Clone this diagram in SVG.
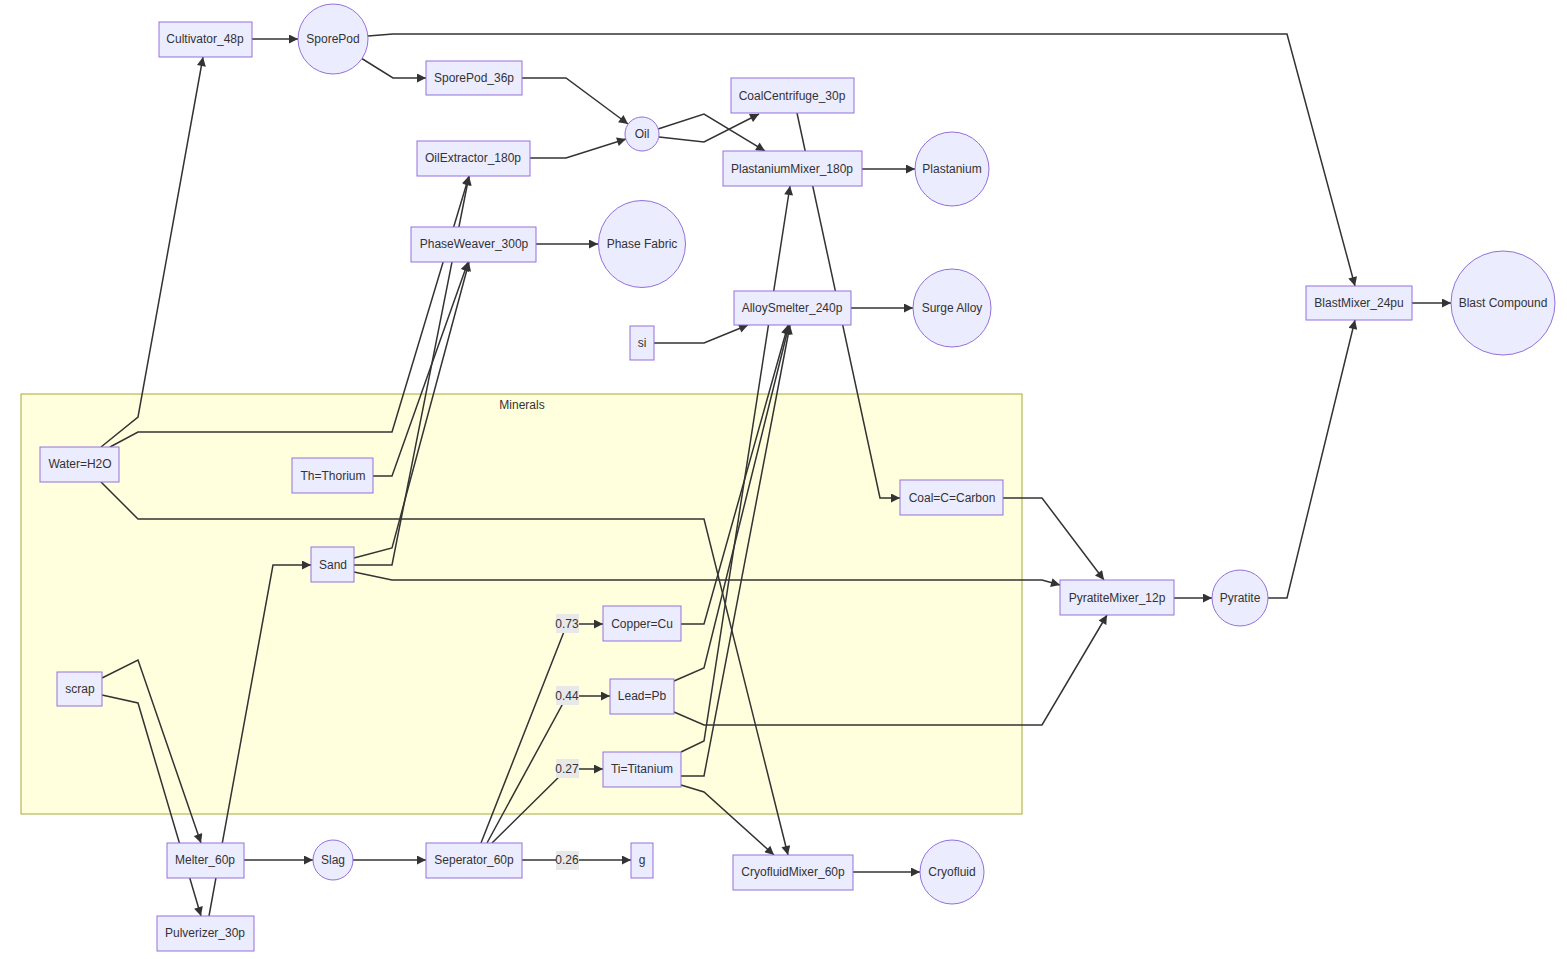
<svg xmlns="http://www.w3.org/2000/svg" width="1567" height="959" viewBox="0 0 1567 959">
<style>
.n rect,.n circle{fill:#ECECFF;stroke:#9370DB;stroke-width:1}
.n text,.lbl text,.cl text{font-family:"Liberation Sans",Arial,sans-serif;font-size:12px;fill:#333;text-anchor:middle;dominant-baseline:central}
.e path{fill:none;stroke:#333;stroke-width:1.5}
.lbl rect{fill:#e8e8e8}
</style>
<defs>
<marker id="ah" viewBox="0 0 10 10" refX="10" refY="5" markerWidth="11" markerHeight="9" markerUnits="userSpaceOnUse" orient="auto">
<path d="M0,0 L10,5 L0,10 z" fill="#333"/>
</marker>
</defs>
<rect width="1567" height="959" fill="#fff"/>
<g id="cluster-minerals" class="cl">
<rect x="21" y="394" width="1001" height="420" fill="#FFFFDE" stroke="#AAAA33" stroke-width="1"/>
<text x="522" y="405">Minerals</text>
</g>
<g id="edges" class="e">
<path marker-end="url(#ah)" d="M252,39 L298,39"/>
<path marker-end="url(#ah)" d="M368,36 L393,34 L1287,34 L1355,286"/>
<path marker-end="url(#ah)" d="M361,58 L393,78 L426,78"/>
<path marker-end="url(#ah)" d="M522,78 L566,78 L628,124"/>
<path marker-end="url(#ah)" d="M530,158 L566,158 L626,139"/>
<path marker-end="url(#ah)" d="M659,137 L704,142 L759,114"/>
<path marker-end="url(#ah)" d="M658,129 L704,114 L765,151"/>
<path marker-end="url(#ah)" d="M862,169 L915,169"/>
<path marker-end="url(#ah)" d="M797,113 L880,498 L900,498"/>
<path marker-end="url(#ah)" d="M536,244 L598,244"/>
<path marker-end="url(#ah)" d="M654,343 L704,343 L748,325"/>
<path marker-end="url(#ah)" d="M851,308 L913,308"/>
<path marker-end="url(#ah)" d="M1412,303 L1451,303"/>
<path marker-end="url(#ah)" d="M101,447 L138,417 L203,57"/>
<path marker-end="url(#ah)" d="M110,447 L138,432 L392,432 L469,176"/>
<path marker-end="url(#ah)" d="M354,565 L392,565 L469,176"/>
<path marker-end="url(#ah)" d="M373,476 L392,476 L468,262"/>
<path marker-end="url(#ah)" d="M354,558 L392,548 L469,262"/>
<path marker-end="url(#ah)" d="M101,482 L138,519 L704,519 L788,855"/>
<path marker-end="url(#ah)" d="M354,572 L392,580 L1042,580 L1060,585"/>
<path marker-end="url(#ah)" d="M1003,498 L1042,498 L1104,580"/>
<path marker-end="url(#ah)" d="M674,712 L704,725 L1042,725 L1107,615"/>
<path marker-end="url(#ah)" d="M1174,598 L1212,598"/>
<path marker-end="url(#ah)" d="M1268,598 L1287,598 L1355,320"/>
<path marker-end="url(#ah)" d="M681,624 L704,624 L788,325"/>
<path marker-end="url(#ah)" d="M674,681 L704,668 L789,325"/>
<path marker-end="url(#ah)" d="M681,776 L704,776 L790,325"/>
<path marker-end="url(#ah)" d="M681,752 L704,741 L790,186"/>
<path marker-end="url(#ah)" d="M681,785 L704,792 L774,855"/>
<path marker-end="url(#ah)" d="M102,678 L138,660 L201,843"/>
<path marker-end="url(#ah)" d="M102,695 L138,703 L201,916"/>
<path marker-end="url(#ah)" d="M209,916 L273,565 L311,565"/>
<path marker-end="url(#ah)" d="M244,860 L313,860"/>
<path marker-end="url(#ah)" d="M353,860 L426,860"/>
<path marker-end="url(#ah)" d="M481,843 L567,624 L603,624"/>
<path marker-end="url(#ah)" d="M487,843 L567,696 L610,696"/>
<path marker-end="url(#ah)" d="M492,843 L567,769 L603,769"/>
<path marker-end="url(#ah)" d="M522,860 L631,860"/>
<path marker-end="url(#ah)" d="M853,872 L920,872"/>
</g>
<g id="edge-labels" class="lbl">
<rect x="556" y="614" width="23" height="19"/><text x="567" y="624">0.73</text>
<rect x="556" y="686" width="23" height="19"/><text x="567" y="696">0.44</text>
<rect x="556" y="759" width="23" height="19"/><text x="567" y="769">0.27</text>
<rect x="556" y="851" width="23" height="19"/><text x="567" y="860">0.26</text>
</g>
<g id="Cultivator_48p" class="n"><rect x="159" y="22" width="93" height="35"/><text x="205" y="39">Cultivator_48p</text></g>
<g id="SporePod" class="n"><circle cx="333" cy="39" r="35"/><text x="333" y="39">SporePod</text></g>
<g id="SporePod_36p" class="n"><rect x="426" y="61" width="96" height="34"/><text x="474" y="78">SporePod_36p</text></g>
<g id="OilExtractor_180p" class="n"><rect x="417" y="141" width="113" height="35"/><text x="473" y="158">OilExtractor_180p</text></g>
<g id="Oil" class="n"><circle cx="642" cy="134" r="17"/><text x="642" y="134">Oil</text></g>
<g id="CoalCentrifuge_30p" class="n"><rect x="731" y="78" width="123" height="35"/><text x="792" y="96">CoalCentrifuge_30p</text></g>
<g id="PlastaniumMixer_180p" class="n"><rect x="723" y="151" width="139" height="35"/><text x="792" y="169">PlastaniumMixer_180p</text></g>
<g id="Plastanium" class="n"><circle cx="952" cy="169" r="37"/><text x="952" y="169">Plastanium</text></g>
<g id="PhaseWeaver_300p" class="n"><rect x="411" y="227" width="125" height="35"/><text x="474" y="244">PhaseWeaver_300p</text></g>
<g id="PhaseFabric" class="n"><circle cx="642" cy="244" r="43.5"/><text x="642" y="244">Phase Fabric</text></g>
<g id="AlloySmelter_240p" class="n"><rect x="734" y="291" width="117" height="34"/><text x="792" y="308">AlloySmelter_240p</text></g>
<g id="SurgeAlloy" class="n"><circle cx="952" cy="308" r="39"/><text x="952" y="308">Surge Alloy</text></g>
<g id="si" class="n"><rect x="630" y="326" width="24" height="34"/><text x="642" y="343">si</text></g>
<g id="BlastMixer_24pu" class="n"><rect x="1306" y="286" width="106" height="34"/><text x="1359" y="303">BlastMixer_24pu</text></g>
<g id="BlastCompound" class="n"><circle cx="1503" cy="303" r="52"/><text x="1503" y="303">Blast Compound</text></g>
<g id="Water" class="n"><rect x="40" y="447" width="79" height="35"/><text x="80" y="464">Water=H2O</text></g>
<g id="Th" class="n"><rect x="292" y="458" width="81" height="35"/><text x="333" y="476">Th=Thorium</text></g>
<g id="Coal" class="n"><rect x="900" y="480" width="103" height="35"/><text x="952" y="498">Coal=C=Carbon</text></g>
<g id="Sand" class="n"><rect x="311" y="547" width="43" height="35"/><text x="333" y="565">Sand</text></g>
<g id="PyratiteMixer_12p" class="n"><rect x="1060" y="580" width="114" height="35"/><text x="1117" y="598">PyratiteMixer_12p</text></g>
<g id="Pyratite" class="n"><circle cx="1240" cy="598" r="28"/><text x="1240" y="598">Pyratite</text></g>
<g id="Copper" class="n"><rect x="603" y="606" width="78" height="35"/><text x="642" y="624">Copper=Cu</text></g>
<g id="Lead" class="n"><rect x="610" y="679" width="64" height="35"/><text x="642" y="696">Lead=Pb</text></g>
<g id="Ti" class="n"><rect x="603" y="752" width="78" height="35"/><text x="642" y="769">Ti=Titanium</text></g>
<g id="scrap" class="n"><rect x="57" y="672" width="45" height="34"/><text x="80" y="689">scrap</text></g>
<g id="Melter_60p" class="n"><rect x="167" y="843" width="77" height="35"/><text x="205" y="860">Melter_60p</text></g>
<g id="Slag" class="n"><circle cx="333" cy="860" r="20"/><text x="333" y="860">Slag</text></g>
<g id="Seperator_60p" class="n"><rect x="426" y="843" width="96" height="35"/><text x="474" y="860">Seperator_60p</text></g>
<g id="g" class="n"><rect x="631" y="843" width="22" height="35"/><text x="642" y="860">g</text></g>
<g id="Pulverizer_30p" class="n"><rect x="157" y="916" width="97" height="35"/><text x="205" y="933">Pulverizer_30p</text></g>
<g id="CryofluidMixer_60p" class="n"><rect x="733" y="855" width="120" height="35"/><text x="793" y="872">CryofluidMixer_60p</text></g>
<g id="Cryofluid" class="n"><circle cx="952" cy="872" r="32"/><text x="952" y="872">Cryofluid</text></g>
</svg>
